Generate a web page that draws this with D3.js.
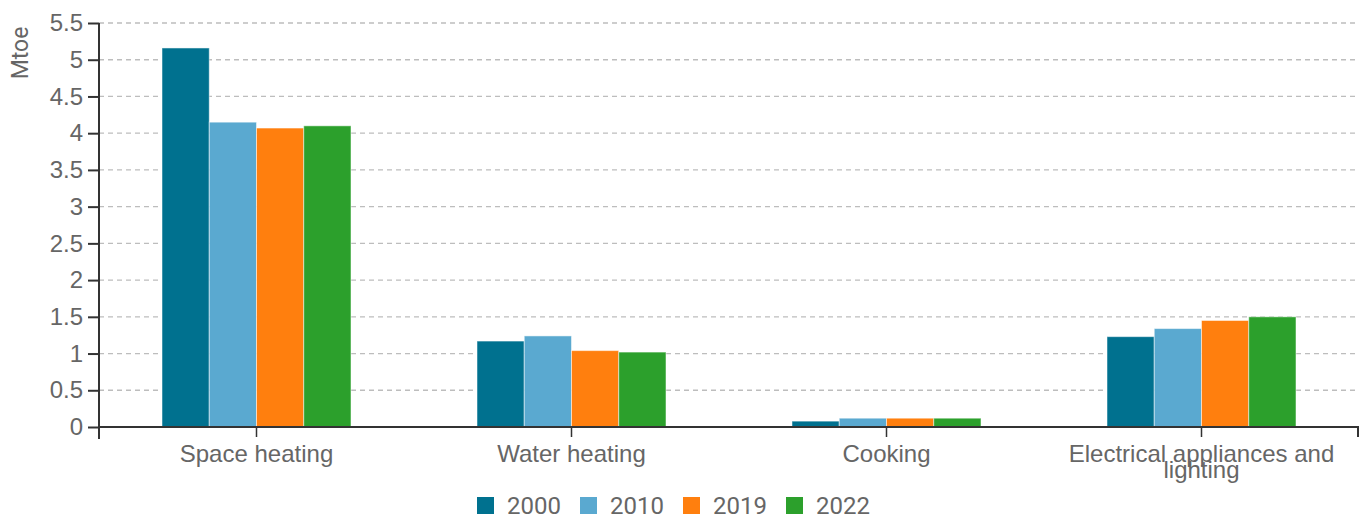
<!DOCTYPE html>
<html>
<head>
<meta charset="utf-8">
<script src="https://cdn.jsdelivr.net/npm/d3@7"></script>
<style>
  body { margin: 0; background: #fff; }
  svg { font-family: Roboto, "Noto Sans", sans-serif; }
</style>
</head>
<body>
<div id="chart"></div>
<script>
const categories = ["Space heating", "Water heating", "Cooking", "Electrical appliances and lighting"];
const years = ["2000", "2010", "2019", "2022"];
const values2000 = [5.16, 1.17, 0.08, 1.23];
const values2010 = [4.15, 1.24, 0.12, 1.34];
const values2019 = [4.07, 1.04, 0.12, 1.45];
const values2022 = [4.10, 1.02, 0.12, 1.50];
const yTicks = [0, 0.5, 1, 1.5, 2, 2.5, 3, 3.5, 4, 4.5, 5, 5.5];
const colors = ["#00718f", "#5aa9d0", "#ff7f0e", "#2ca02c"];

const series = [values2000, values2010, values2019, values2022];

const width = 1368, height = 519;
const margin = {top: 23, right: 10, bottom: 92, left: 99};

const svg = d3.select("#chart").append("svg")
  .attr("width", width)
  .attr("height", height);

const x0 = d3.scaleBand()
  .domain(categories)
  .range([margin.left, 1359])
  .paddingInner(0.4)
  .paddingOuter(0.2);

const x1 = d3.scaleBand()
  .domain(years)
  .range([0, x0.bandwidth()]);

const y = d3.scaleLinear()
  .domain([0, 5.5])
  .range([height - margin.bottom, margin.top]);

// grid
svg.append("g")
  .selectAll("line")
  .data(yTicks.filter(d => d > 0))
  .join("line")
  .attr("x1", margin.left)
  .attr("x2", 1358)
  .attr("y1", d => y(d))
  .attr("y2", d => y(d))
  .attr("stroke", "#bdbdbd")
  .attr("stroke-width", 1.3)
  .attr("stroke-dasharray", "5,4");

// bars
const groups = svg.append("g")
  .selectAll("g")
  .data(categories)
  .join("g")
  .attr("transform", d => `translate(${x0(d)},0)`);

groups.selectAll("rect")
  .data((c, i) => years.map((yr, j) => ({yr, v: series[j][i], color: colors[j]})))
  .join("rect")
  .attr("x", d => x1(d.yr))
  .attr("width", x1.bandwidth())
  .attr("y", d => y(d.v))
  .attr("height", d => y(0) - y(d.v))
  .attr("fill", d => d.color)
  .attr("stroke", "rgba(255,255,255,0.5)")
  .attr("stroke-width", 1);

// y axis
const yAxis = svg.append("g")
  .attr("transform", `translate(${margin.left},0)`)
  .call(d3.axisLeft(y).tickValues(yTicks).tickSize(11).tickPadding(5).tickFormat(d3.format("")));
yAxis.select(".domain").attr("d", `M0,${y(5.5)}V${y(0) + 12}`).attr("stroke", "#333").attr("stroke-width", 2);
yAxis.selectAll(".tick line").attr("stroke", "#333").attr("stroke-width", 2);
yAxis.selectAll(".tick text").attr("fill", "#666").style("font-size", "24px");

// x axis
const xAxis = svg.append("g")
  .attr("transform", `translate(0,${y(0)})`)
  .call(d3.axisBottom(x0).tickSize(10).tickPadding(8));
xAxis.select(".domain").attr("d", `M${margin.left},0H1358V10`).attr("stroke", "#333").attr("stroke-width", 2);
xAxis.selectAll(".tick line").attr("stroke", "#333").attr("stroke-width", 1.5);
xAxis.selectAll(".tick text")
  .attr("fill", "#666")
  .style("font-size", "24px")
  .each(function(d) {
    const t = d3.select(this);
    if (d === "Electrical appliances and lighting") {
      t.text(null);
      t.append("tspan").attr("x", 0).attr("dy", "0.71em").text("Electrical appliances and");
      t.append("tspan").attr("x", 0).attr("dy", "0.68em").text("lighting");
    }
  });

// y label
svg.append("text")
  .attr("transform", `translate(20,${53}) rotate(-90)`)
  .attr("text-anchor", "middle")
  .attr("dominant-baseline", "central")
  .attr("fill", "#666")
  .style("font-size", "23px")
  .text("Mtoe");

// legend
const legend = svg.append("g")
  .attr("transform", "translate(477,497)")
  .selectAll("g")
  .data(years)
  .join("g")
  .attr("transform", (d, i) => `translate(${i * 103},0)`);
legend.append("rect")
  .attr("width", 17)
  .attr("height", 17)
  .attr("fill", (d, i) => colors[i]);
legend.append("text")
  .attr("x", 30)
  .attr("y", 9)
  .attr("dy", "0.35em")
  .attr("fill", "#666")
  .style("font-size", "24px")
  .text(d => d);
</script>
</body>
</html>
